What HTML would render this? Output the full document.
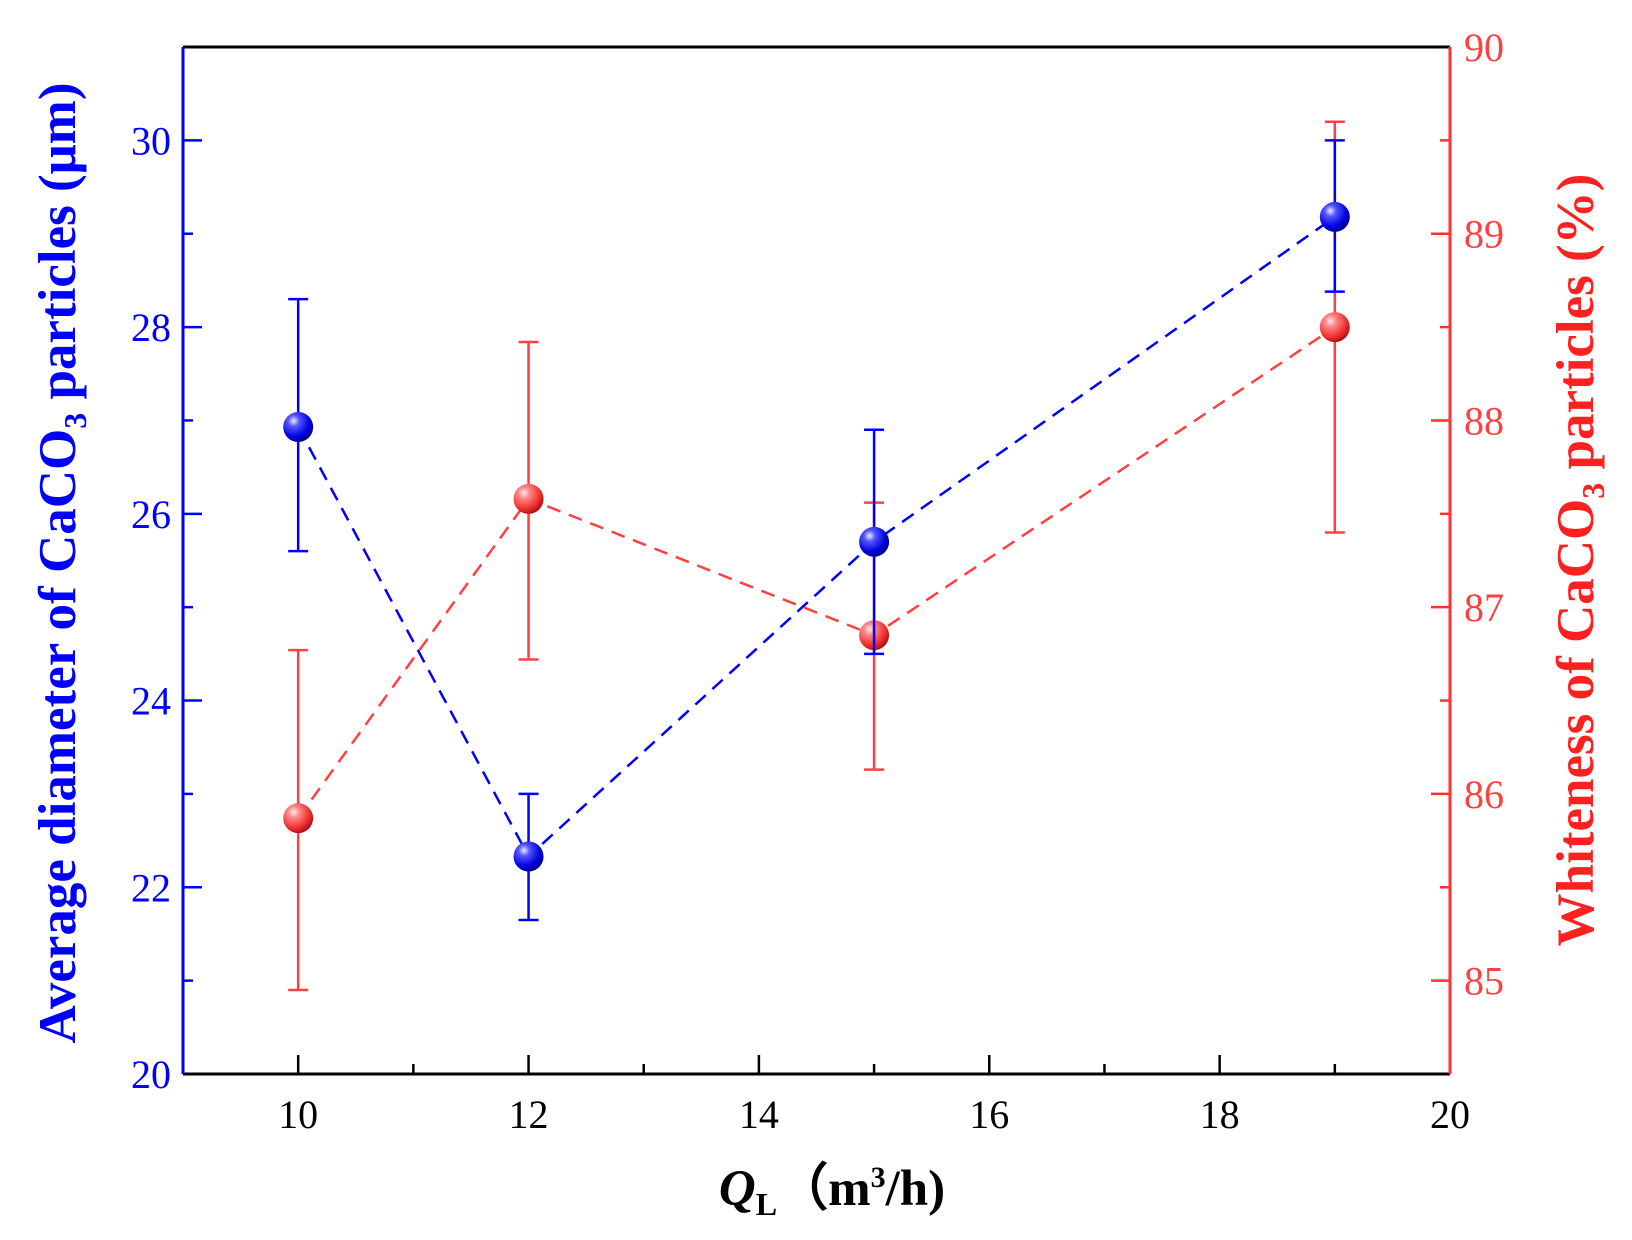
<!DOCTYPE html>
<html><head><meta charset="utf-8"><style>
html,body{margin:0;padding:0;background:#fff;}
svg{display:block;font-family:"Liberation Serif",serif;}
</style></head><body>
<svg id="chart" width="1632" height="1240" viewBox="0 0 1632 1240">
<defs>
<radialGradient id="gb" cx="0.35" cy="0.3" r="0.75"><stop offset="0" stop-color="#eef"/><stop offset="0.25" stop-color="#55f"/><stop offset="0.7" stop-color="#0000e0"/><stop offset="1" stop-color="#000080"/></radialGradient>
<radialGradient id="gr" cx="0.35" cy="0.3" r="0.75"><stop offset="0" stop-color="#fee"/><stop offset="0.25" stop-color="#f88"/><stop offset="0.7" stop-color="#f03030"/><stop offset="1" stop-color="#a01010"/></radialGradient>
</defs>
<g id="g"></g>
</svg>
<script>
const xCats=[10,12,15,19];
const diameter=[26.93,22.33,25.7,29.18];
const diamHi=[28.3,23.0,26.9,30.0];
const diamLo=[25.6,21.65,24.5,28.38];
const whiteness=[85.87,87.58,86.85,88.5];
const whiteHi=[86.77,88.42,87.56,89.6];
const whiteLo=[84.95,86.72,86.13,87.4];
const xTicks=[10,12,14,16,18,20];
const yLTicks=[20,22,24,26,28,30];
const yRTicks=[85,86,87,88,89,90];

const L=183,R=1450,T=47,B=1074;
const X=v=>L+(v-9)/(20-9)*(R-L);
const YL=v=>B-(v-20)/(31-20)*(B-T);
const YR=v=>B-(v-84.5)/(90-84.5)*(B-T);
const g=document.getElementById('g');
const NS='http://www.w3.org/2000/svg';
function mk(tag,attrs,name,txt){const e=document.createElementNS(NS,tag);for(const k in attrs)e.setAttribute(k,attrs[k]);


if(txt!==undefined)e.textContent=txt;g.appendChild(e);return e;}

mk('line',{x1:L,y1:T,x2:R,y2:T,stroke:'#000','stroke-width':3},'top-axis');
mk('line',{x1:L,y1:B,x2:R,y2:B,stroke:'#000','stroke-width':3},'x-axis');
mk('line',{x1:L,y1:T,x2:L,y2:B,stroke:'#0000ff','stroke-width':3},'left-y-axis');
mk('line',{x1:R,y1:T,x2:R,y2:B,stroke:'#ff3030','stroke-width':3},'right-y-axis');
for(let v=10;v<=19;v++){const maj=v%2===0;mk('line',{x1:X(v),y1:B,x2:X(v),y2:B-(maj?19:10),stroke:'#000','stroke-width':2.5},'x-tick');}
xTicks.forEach(v=>mk('text',{x:X(v),y:B+54,'text-anchor':'middle','font-size':40,fill:'#000'},'x-tick-label',v));
for(let v=21;v<=30;v++){const maj=v%2===0;mk('line',{x1:L,y1:YL(v),x2:L+(maj?19:10),y2:YL(v),stroke:'#0000ff','stroke-width':2.5},'left-tick');}
yLTicks.forEach(v=>mk('text',{x:L-12,y:YL(v)+14,'text-anchor':'end','font-size':40,fill:'#0000ff'},'left-tick-label',v));
for(let v=85;v<=89.5;v+=0.5){const maj=v%1===0;mk('line',{x1:R,y1:YR(v),x2:R-(maj?19:10),y2:YR(v),stroke:'#ff3030','stroke-width':2.5},'right-tick');}
yRTicks.forEach(v=>mk('text',{x:R+14,y:YR(v)+14,'text-anchor':'start','font-size':40,fill:'#ff4040'},'right-tick-label',v));

function series(vals,hi,lo,Y,col,grad,nm){
  mk('polyline',{points:xCats.map((x,i)=>X(x)+','+Y(vals[i])).join(' '),fill:'none',stroke:col,'stroke-width':2.5,'stroke-dasharray':'14,9'},nm+'-line');
  xCats.forEach((x,i)=>{const cx=X(x);
    mk('line',{x1:cx,y1:Y(hi[i]),x2:cx,y2:Y(lo[i]),stroke:col,'stroke-width':2.5},nm+'-error-bar');
    mk('line',{x1:cx-10,y1:Y(hi[i]),x2:cx+10,y2:Y(hi[i]),stroke:col,'stroke-width':2.5},nm+'-error-cap');
    mk('line',{x1:cx-10,y1:Y(lo[i]),x2:cx+10,y2:Y(lo[i]),stroke:col,'stroke-width':2.5},nm+'-error-cap');
  });
  xCats.forEach((x,i)=>mk('circle',{cx:X(x),cy:Y(vals[i]),r:15,fill:'url(#'+grad+')'},nm+'-point'));
}
series(whiteness,whiteHi,whiteLo,YR,'#ff4040','gr','whiteness');
series(diameter,diamHi,diamLo,YL,'#0000ff','gb','diameter');

const xt=mk('text',{x:832,y:1205,'text-anchor':'middle','font-size':51,'font-weight':'bold',fill:'#000'},'x-axis-title');
xt.innerHTML='<tspan font-style="italic">Q</tspan><tspan font-size="32" dy="10">L</tspan><tspan dy="-10">（m</tspan><tspan font-size="30" dy="-18">3</tspan><tspan dy="18">/h)</tspan>';
const lt=mk('text',{x:0,y:0,'text-anchor':'middle','font-size':53,'font-weight':'bold',fill:'#0000ff',transform:'translate(75,563) rotate(-90)'},'left-axis-title');
lt.innerHTML='Average diameter of CaCO<tspan font-size="32" dy="11">3</tspan><tspan dy="-11"> particles (μm)</tspan>';
const rt=mk('text',{x:0,y:0,'text-anchor':'middle','font-size':53,'font-weight':'bold',fill:'#ff2020',transform:'translate(1593,560) rotate(-90)'},'right-axis-title');
rt.innerHTML='Whiteness of CaCO<tspan font-size="32" dy="11">3</tspan><tspan dy="-11"> particles (%)</tspan>';
</script>
</body></html>
